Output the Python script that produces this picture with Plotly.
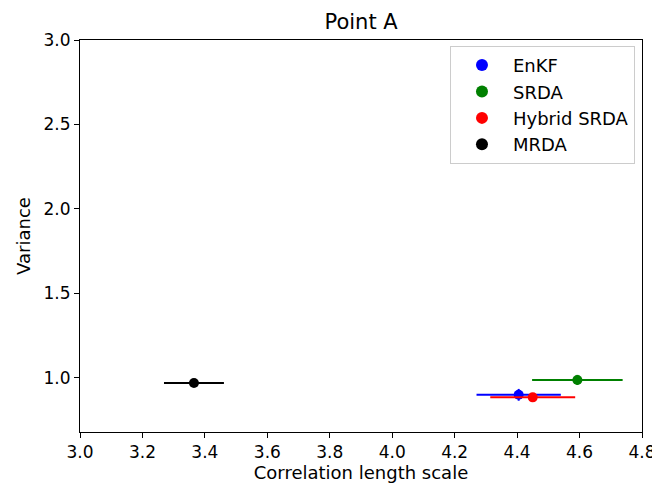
import plotly.graph_objects as go

# data
methods = ["EnKF", "SRDA", "Hybrid SRDA", "MRDA"]
colors = ["blue", "green", "red", "black"]
length_scale = [4.405, 4.593, 4.450, 3.365]
length_err = [0.135, 0.145, 0.136, 0.096]
variance = [0.900, 0.988, 0.885, 0.970]
variance_err = [0.035, 0.030, 0.025, 0.020]

x_ticks = [3.0, 3.2, 3.4, 3.6, 3.8, 4.0, 4.2, 4.4, 4.6, 4.8]
y_ticks = [1.0, 1.5, 2.0, 2.5, 3.0]

fig = go.Figure()

for m, c, x, xe, y, ye in zip(methods, colors, length_scale, length_err, variance, variance_err):
    fig.add_trace(go.Scatter(
        x=[x], y=[y], mode="markers", name=m,
        marker=dict(color=c, size=10),
        error_x=dict(type="data", array=[xe], color=c, thickness=2, width=0),
        error_y=dict(type="data", array=[ye], color=c, thickness=2, width=0),
    ))

axis_style = dict(
    showline=True, linecolor="black", linewidth=1, mirror=True,
    ticks="outside", ticklen=5, tickcolor="black",
    showgrid=False, zeroline=False, automargin=False,
    tickfont=dict(size=17, color="black"),
)

# page body has an 8px margin, so margins are shifted by that amount
fig.update_layout(
    width=660, height=488,
    margin=dict(l=72, r=26, t=32, b=64, autoexpand=False),
    plot_bgcolor="white", paper_bgcolor="white",
    font=dict(family="DejaVu Sans", size=17, color="black"),
    title=dict(text="Point A", x=0.535, xanchor="center", y=0.972, yanchor="middle",
               font=dict(size=21)),
    xaxis=dict(range=[3.0, 4.8], tickvals=x_ticks, ticktext=[f"{v:.1f}" for v in x_ticks],
               title=dict(text="Correlation length scale", standoff=4, font=dict(size=18)),
               **axis_style),
    yaxis=dict(range=[0.68, 3.0], tickvals=y_ticks, ticktext=[f"{v:.1f}" for v in y_ticks],
               title=dict(text="Variance", standoff=8, font=dict(size=18)),
               **axis_style),
    legend=dict(x=0.9875, y=0.985, xanchor="right", yanchor="top",
                bordercolor="#cccccc", borderwidth=1, bgcolor="white",
                font=dict(size=18), itemsizing="constant", itemwidth=52,
                tracegroupgap=2),
)

fig.write_html("out.html")
